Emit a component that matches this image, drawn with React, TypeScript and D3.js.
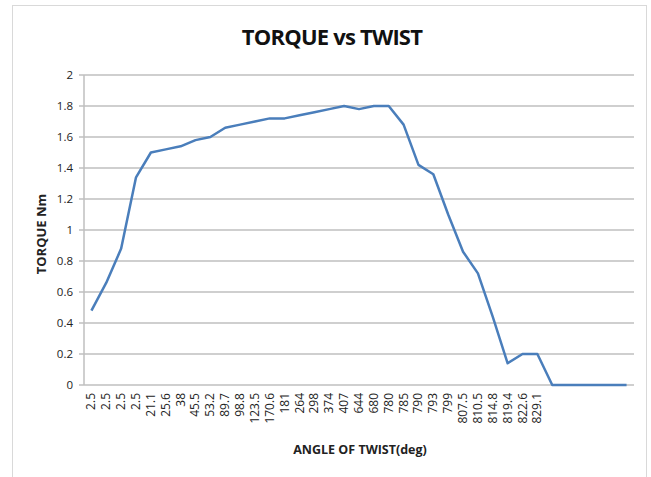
import React, { useRef, useEffect } from "react";
import * as d3 from "d3";

// angle of twist (deg) - category labels, last ones left blank in the original
const twistLabels = [
  "2.5", "2.5", "2.5", "2.5", "21.1", "25.6", "38", "45.5", "53.2", "89.7",
  "98.8", "123.5", "170.6", "181", "264", "298", "374", "407", "644", "680",
  "780", "785", "790", "793", "799", "807.5", "810.5", "814.8", "819.4", "822.6",
  "829.1", "", "", "", "", "", "",
];

// torque in Nm
const torqueValues = [
  0.48, 0.66, 0.88, 1.34, 1.5, 1.52, 1.54, 1.58, 1.6, 1.66,
  1.68, 1.7, 1.72, 1.72, 1.74, 1.76, 1.78, 1.8, 1.78, 1.8,
  1.8, 1.68, 1.42, 1.36, 1.1, 0.86, 0.72, 0.44, 0.14, 0.2,
  0.2, 0, 0, 0, 0, 0, 0,
];

const yTicks = [0, 0.2, 0.4, 0.6, 0.8, 1, 1.2, 1.4, 1.6, 1.8, 2];

export default function App() {
  const ref = useRef<SVGSVGElement>(null);
  const width = 651;
  const height = 477;

  useEffect(() => {
    const svg = d3.select(ref.current);
    svg.selectAll("*").remove();

    const left = 84, right = 634, top = 75, bottom = 385;
    const font = "'Open Sans', 'Liberation Sans', sans-serif";

    const x = d3.scaleBand<number>()
      .domain(twistLabels.map((_, i) => i))
      .range([left, right]);
    const y = d3.scaleLinear().domain([0, 2]).range([bottom, top]);

    // outer chart frame (bottom edge is cut off in the original)
    svg.append("rect")
      .attr("x", 12.5).attr("y", 5.5)
      .attr("width", 634).attr("height", 480)
      .attr("fill", "white")
      .attr("stroke", "#d9d9d9");

    // gridlines
    svg.append("g")
      .selectAll("line")
      .data(yTicks)
      .join("line")
      .attr("x1", left - 5)
      .attr("x2", right)
      .attr("y1", d => y(d))
      .attr("y2", d => y(d))
      .attr("stroke", "#bfbfbf")
      .attr("stroke-width", 1.5);

    // y axis line
    svg.append("line")
      .attr("x1", left).attr("x2", left)
      .attr("y1", top).attr("y2", bottom)
      .attr("stroke", "#bfbfbf").attr("stroke-width", 1.5);

    // y tick labels
    svg.append("g")
      .selectAll("text")
      .data(yTicks)
      .join("text")
      .attr("x", left - 11)
      .attr("y", d => y(d))
      .attr("dy", "0.35em")
      .attr("text-anchor", "end")
      .attr("font-family", font)
      .attr("font-size", 11.5)
      .attr("fill", "#222")
      .text(d => String(d));

    // x tick labels, rotated
    svg.append("g")
      .selectAll("text")
      .data(twistLabels)
      .join("text")
      .attr("transform", (_, i) => `translate(${x(i)! + x.bandwidth() / 2 + 4},${bottom + 8}) rotate(-90)`)
      .attr("text-anchor", "end")
      .attr("font-family", font)
      .attr("font-size", 12)
      .attr("fill", "#222")
      .text(d => d);

    // the curve
    const line = d3.line<number>()
      .x((_, i) => x(i)! + x.bandwidth() / 2)
      .y(d => y(d));

    svg.append("path")
      .datum(torqueValues)
      .attr("d", line)
      .attr("fill", "none")
      .attr("stroke", "#4a7ebb")
      .attr("stroke-width", 2.5)
      .attr("stroke-linejoin", "round");

    // titles
    svg.append("text")
      .attr("x", 332).attr("y", 45)
      .attr("text-anchor", "middle")
      .attr("font-family", font)
      .attr("font-weight", "bold")
      .attr("font-size", 22)
      .attr("letter-spacing", -0.8)
      .attr("fill", "#111")
      .text("TORQUE vs TWIST");

    svg.append("text")
      .attr("transform", `translate(46,${(top + bottom) / 2 + 4}) rotate(-90)`)
      .attr("text-anchor", "middle")
      .attr("font-family", font)
      .attr("font-weight", "bold")
      .attr("font-size", 13)
      .attr("fill", "#222")
      .text("TORQUE Nm");

    svg.append("text")
      .attr("x", 360).attr("y", 454)
      .attr("text-anchor", "middle")
      .attr("font-family", font)
      .attr("font-weight", "bold")
      .attr("font-size", 12.5)
      .attr("fill", "#222")
      .text("ANGLE OF TWIST(deg)");
  }, []);

  return (
    <svg
      ref={ref}
      width={width}
      height={height}
      style={{ position: "absolute", left: 0, top: 0, background: "white" }}
    ></svg>
  );
}
